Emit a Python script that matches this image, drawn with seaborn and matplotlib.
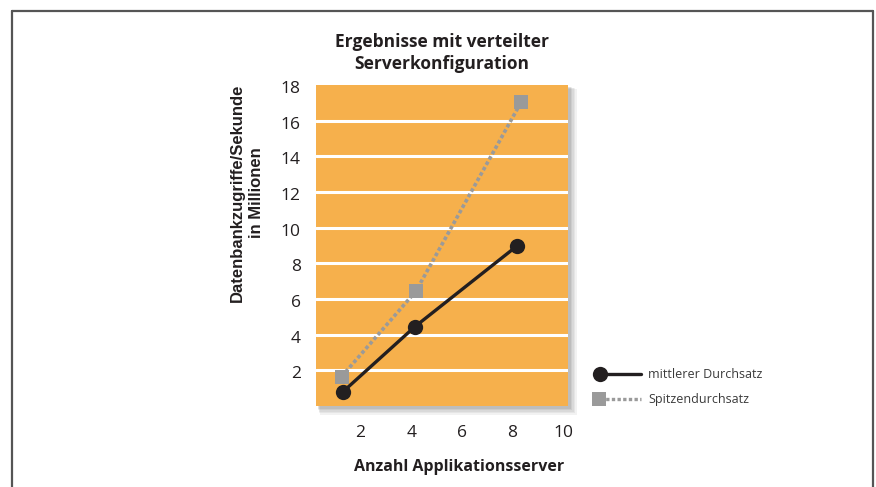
import matplotlib
matplotlib.use("Agg")
import matplotlib.pyplot as plt
import matplotlib.transforms as mtransforms
from matplotlib.lines import Line2D
from matplotlib.patches import Rectangle
import seaborn as sns
import pandas as pd

# Servers vs. database accesses per second (millions)
servers_mean = [1.29, 4.15, 8.17]
mean_throughput = [0.78, 4.45, 8.96]
servers_peak = [1.25, 4.19, 8.34]
peak_throughput = [1.65, 6.44, 17.02]
x_ticks = [2, 4, 6, 8, 10]
y_ticks = [2, 4, 6, 8, 10, 12, 14, 16, 18]
series_names = ["mittlerer Durchsatz", "Spitzendurchsatz"]

sns.set_theme(style="white")
plt.rcParams["font.family"] = ["Open Sans", "DejaVu Sans"]

W, H = 876, 487
fig = plt.figure(figsize=(W / 100, H / 100), dpi=100)

# axes box in pixel coordinates
left, right, top, bottom = 316, 568, 85, 406
ax = fig.add_axes([left / W, 1 - bottom / H, (right - left) / W, (bottom - top) / H])

orange = "#f6b04c"
black = "#231f20"
grey = "#9a9a9a"

# soft drop shadow behind the plotting area
for i, a in enumerate([0.05, 0.05, 0.05, 0.06, 0.07]):
    off = 6 - i
    grow = 5 - i
    fig.patches.append(Rectangle(((left + off - grow / 2) / W, (H - bottom - off - grow / 2) / H),
                                 (right - left + grow) / W, (bottom - top + grow) / H,
                                 transform=fig.transFigure, facecolor="black",
                                 edgecolor="none", alpha=a, zorder=0))

ax.set_facecolor(orange)
ax.set_zorder(1)

df_mean = pd.DataFrame({"server": servers_mean, "value": mean_throughput})
df_peak = pd.DataFrame({"server": servers_peak, "value": peak_throughput})

sns.lineplot(data=df_peak, x="server", y="value", ax=ax, color=grey, lw=2.6,
             linestyle=(0, (1.0, 0.7)), marker="s", markersize=10,
             markeredgewidth=0, markerfacecolor=grey, zorder=3)
sns.lineplot(data=df_mean, x="server", y="value", ax=ax, color=black, lw=2.4,
             marker="o", markersize=11, markeredgewidth=0, markerfacecolor=black, zorder=4)

ax.set_xlim(0.24, 10.2)
ax.set_ylim(0, 18)
ax.set_xticks(x_ticks)
ax.set_yticks(y_ticks)
ax.set_xticklabels([str(v) for v in x_ticks], fontsize=12.5, color="#231f20")
ax.set_yticklabels([str(v) for v in y_ticks], fontsize=12.5, color="#231f20")
ax.tick_params(axis="x", length=0, pad=14)
ax.tick_params(axis="y", length=0, pad=11)
# nudge y tick labels slightly downward
shift = mtransforms.ScaledTranslation(0, -1.5 / 72, fig.dpi_scale_trans)
for lbl in ax.get_yticklabels():
    lbl.set_transform(lbl.get_transform() + shift)
for gy in y_ticks[:-1]:
    ax.axhline(gy, color="white", lw=2.2, zorder=1)
for s in ax.spines.values():
    s.set_visible(False)
ax.set_xlabel("")
ax.set_ylabel("")

# titles and axis labels
fig.text(442 / W, 1 - 53 / H, "Ergebnisse mit verteilter\nServerkonfiguration",
         ha="center", va="center", fontsize=12.5, fontweight="bold", color="#231f20",
         linespacing=1.3)
fig.text(459 / W, 1 - 467 / H, "Anzahl Applikationsserver", ha="center", va="center",
         fontsize=11.5, fontweight="bold", color="#231f20")
fig.text(247 / W, 1 - 193 / H, "Datenbankzugriffe/Sekunde\nin Millionen", ha="center",
         va="center", rotation=90, fontsize=12, fontweight="bold", color="#231f20",
         linespacing=1.4, family=["Liberation Sans", "DejaVu Sans"])

# legend drawn beside the chart
def fx(px):
    return px / W

def fy(py):
    return 1 - py / H

fig.add_artist(Line2D([fx(600), fx(641)], [fy(374), fy(374)], color=black, lw=2.4,
                      transform=fig.transFigure))
fig.add_artist(Line2D([fx(600)], [fy(374)], color=black, marker="o", markersize=11,
                      markeredgewidth=0, transform=fig.transFigure))
fig.add_artist(Line2D([fx(600), fx(641)], [fy(399), fy(399)], color=grey, lw=2.4,
                      linestyle=(0, (1.0, 0.7)), transform=fig.transFigure))
fig.add_artist(Line2D([fx(599)], [fy(399)], color=grey, marker="s", markersize=9.5,
                      markeredgewidth=0, transform=fig.transFigure))
fig.text(fx(648), fy(374), series_names[0], ha="left", va="center", fontsize=9,
         color="#3a3a3a")
fig.text(fx(648), fy(399), series_names[1], ha="left", va="center", fontsize=9,
         color="#3a3a3a")

# outer frame (left, top, right)
frame_col = "#555555"
fig.add_artist(Line2D([fx(12), fx(12)], [fy(11), 0], color=frame_col, lw=1.6,
                      transform=fig.transFigure))
fig.add_artist(Line2D([fx(12), fx(873)], [fy(11), fy(11)], color=frame_col, lw=1.6,
                      transform=fig.transFigure))
fig.add_artist(Line2D([fx(873), fx(873)], [fy(11), 0], color=frame_col, lw=1.6,
                      transform=fig.transFigure))

fig.savefig("out.png", dpi=100, facecolor="white")
